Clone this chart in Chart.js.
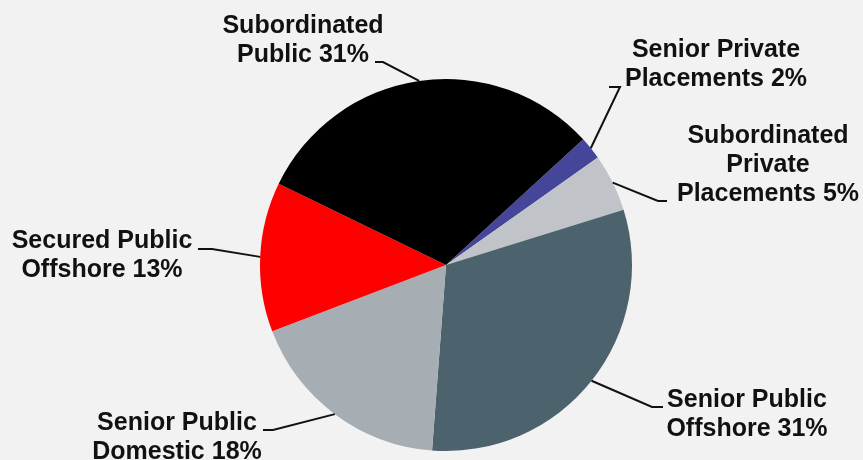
<!DOCTYPE html>
<html>
<head>
<meta charset="utf-8">
<script src="https://cdn.jsdelivr.net/npm/chart.js@4/dist/chart.umd.min.js"></script>
<style>
html,body{margin:0;padding:0;background:#f2f2f2;}
#wrap{width:863px;height:460px;position:relative;}
</style>
</head>
<body>
<div id="wrap"><canvas id="c" width="863" height="460"></canvas></div>
<script>
const categories = [
  "Senior Private Placements",
  "Subordinated Private Placements",
  "Senior Public Offshore",
  "Senior Public Domestic",
  "Secured Public Offshore",
  "Subordinated Public"
];
const shares = [2, 5, 31, 18, 13, 31];
const labelLines = [
  ["Senior Private", "Placements 2%"],
  ["Subordinated", "Private", "Placements 5%"],
  ["Senior Public", "Offshore 31%"],
  ["Senior Public", "Domestic 18%"],
  ["Secured Public", "Offshore 13%"],
  ["Subordinated", "Public 31%"]
];
const colors = ["#45459a", "#c0c4c8", "#4c626d", "#a6adb3", "#ff0000", "#000000"];

// annotation layout: elbow point, end of horizontal segment, text centre x, first baseline
const labelLayout = [
  {elbow:[620,87], end:[609,87], tx:716, ty:57},
  {elbow:[658,201], end:[667,201], tx:768, ty:143},
  {elbow:[652,407], end:[663,407], tx:747, ty:407},
  {elbow:[273,430], end:[263,430], tx:177, ty:430},
  {elbow:[212,249], end:[198,249], tx:102, ty:248},
  {elbow:[383,62], end:[375,62], tx:303, ty:33}
];

const labelPlugin = {
  id: 'leaderLabels',
  afterDatasetsDraw(chart) {
    const ctx = chart.ctx;
    const meta = chart.getDatasetMeta(0);
    ctx.save();
    ctx.font = 'bold 25px "Liberation Sans", Arial, sans-serif';
    ctx.fillStyle = '#111';
    ctx.textAlign = 'center';
    ctx.textBaseline = 'alphabetic';
    ctx.strokeStyle = '#111';
    ctx.lineWidth = 2;
    meta.data.forEach((arc, i) => {
      const p = arc.getProps(['x','y','startAngle','endAngle','outerRadius'], true);
      const mid = (p.startAngle + p.endAngle) / 2;
      const sx = p.x + Math.cos(mid) * p.outerRadius;
      const sy = p.y + Math.sin(mid) * p.outerRadius;
      const L = labelLayout[i];
      ctx.beginPath();
      ctx.moveTo(sx, sy);
      ctx.lineTo(L.elbow[0], L.elbow[1]);
      ctx.lineTo(L.end[0], L.end[1]);
      ctx.stroke();
      labelLines[i].forEach((t, k) => {
        ctx.fillText(t, L.tx, L.ty + k * 29);
      });
    });
    ctx.restore();
  }
};

new Chart(document.getElementById('c'), {
  type: 'pie',
  data: {
    labels: categories,
    datasets: [{
      data: shares,
      backgroundColor: colors,
      borderWidth: 0
    }]
  },
  options: {
    responsive: false,
    animation: false,
    rotation: 47.5,
    layout: { padding: { top: 79, bottom: 9, left: 260, right: 231 } },
    plugins: { legend: { display: false }, tooltip: { enabled: false } }
  },
  plugins: [labelPlugin]
});
</script>
</body>
</html>
